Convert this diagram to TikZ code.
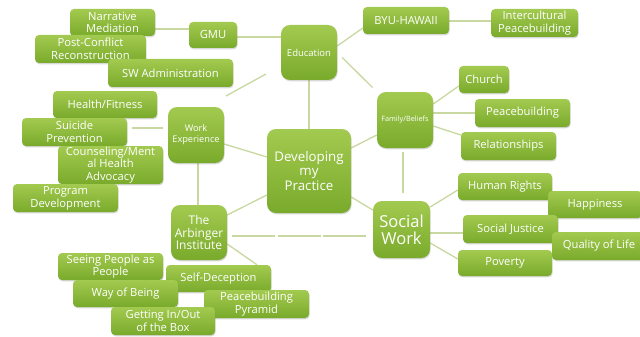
\documentclass[tikz,border=0pt]{standalone}
\usepackage{fontspec}
\setmainfont{Open Sans}
\usetikzlibrary{shadows,calc,backgrounds}
\definecolor{gtop}{HTML}{A3CA50}
\definecolor{gbot}{HTML}{79AA2B}
\definecolor{lnk}{HTML}{C8D8A0}
\tikzset{
  bx/.style={rounded corners=4pt, top color=gtop, bottom color=gbot, draw=none,
    text=white, align=center, inner sep=0pt,
    drop shadow={shadow xshift=0.6pt, shadow yshift=-1.3pt, opacity=0.3},
    font=\fontsize{11.2}{12.8}\selectfont},
  bigbx/.style={bx, rounded corners=9pt},
  ln/.style={draw=lnk, line width=1.3pt},
}
\begin{document}
\begin{tikzpicture}[x=1pt,y=-1pt]
\useasboundingbox (0,0) rectangle (640,337);
% hubs
\node[bigbx, minimum width=84pt, minimum height=84pt, font=\fontsize{13.3}{14.5}\selectfont] (dev) at (309,171) {Developing\\my\\Practice};
\node[bigbx, minimum width=56pt, minimum height=55pt, font=\fontsize{9.5}{11}\selectfont] (edu) at (309,52.5) {Education};
\node[bigbx, minimum width=56pt, minimum height=56pt, font=\fontsize{9.2}{11}\selectfont] (work) at (196,135) {Work\\Experience};
\node[bigbx, minimum width=56pt, minimum height=56pt, font=\fontsize{7.3}{9}\selectfont] (fam) at (405,120) {Family/Beliefs};
\node[bigbx, minimum width=56pt, minimum height=55pt, font=\fontsize{12}{12.5}\selectfont] (arb) at (199,232.5) {The\\Arbinger\\Institute};
\node[bigbx, minimum width=57pt, minimum height=57pt, font=\fontsize{16.5}{17}\selectfont] (soc) at (401.5,229.5) {Social\\Work};
% education branch
\node[bx, minimum width=85pt, minimum height=27pt] (narr) at (112.5,22.5) {Narrative\\Mediation};
\node[bx, minimum width=48pt, minimum height=26pt] (gmu) at (213,35) {GMU};
\node[bx, minimum width=111pt, minimum height=28pt] (post) at (90.5,49) {Post-Conflict\\Reconstruction};
\node[bx, minimum width=125pt, minimum height=28pt] (swadm) at (170.5,73) {SW Administration};
\node[bx, minimum width=86pt, minimum height=27pt] (byu) at (406,20.5) {BYU-HAWAII};
\node[bx, minimum width=87pt, minimum height=28pt] (inter) at (534.5,23) {Intercultural\\Peacebuilding};
% family branch
\node[bx, minimum width=50pt, minimum height=27pt] (church) at (484,79.5) {Church};
\node[bx, minimum width=95pt, minimum height=28pt] (peace) at (522.5,113) {Peacebuilding};
\node[bx, minimum width=95pt, minimum height=28pt] (rel) at (508.5,146) {Relationships};
% work branch
\node[bx, minimum width=104pt, minimum height=27pt] (health) at (105,104.5) {Health/Fitness};
\node[bx, minimum width=105pt, minimum height=28pt] (suic) at (74.5,132) {Suicide\\Prevention};
\node[bx, minimum width=105pt, minimum height=38pt] (couns) at (110.5,165) {Counseling/Ment\\al Health\\Advocacy};
\node[bx, minimum width=105pt, minimum height=28pt] (prog) at (65.5,198) {Program\\Development};
% arbinger branch
\node[bx, minimum width=105pt, minimum height=27pt] (seeing) at (110.5,266.5) {Seeing People as\\People};
\node[bx, minimum width=105pt, minimum height=27pt] (selfd) at (218.5,278.5) {Self-Deception};
\node[bx, minimum width=105pt, minimum height=27pt] (way) at (125.5,293.5) {Way of Being};
\node[bx, minimum width=105pt, minimum height=28pt] (pyr) at (256.5,304) {Peacebuilding\\Pyramid};
\node[bx, minimum width=104pt, minimum height=28pt] (gbox) at (163,321) {Getting In/Out\\of the Box};
% social work branch
\node[bx, minimum width=94pt, minimum height=27pt] (hr) at (505,186.5) {Human Rights};
\node[bx, minimum width=94pt, minimum height=27pt] (happy) at (595,204.5) {Happiness};
\node[bx, minimum width=95pt, minimum height=28pt] (sj) at (510.5,229) {Social Justice};
\node[bx, minimum width=94pt, minimum height=26pt] (pov) at (505,263) {Poverty};
\node[bx, minimum width=94pt, minimum height=28pt] (qol) at (599,246) {Quality of Life};
\coordinate (ew1) at (266,74);
\coordinate (ew2) at (226,96);
% connectors
\begin{scope}[on background layer]
\fill[white] (0,0) rectangle (640,337);
\draw[ln] (narr.east|-0,29) -- (gmu.west|-0,29);
\draw[ln] (gmu.east|-0,37) -- (edu.west|-0,37);
\draw[ln] (edu.east|-0,46) -- (byu.west|-0,28);
\draw[ln] (byu.east|-0,21) -- (inter.west|-0,21);
\draw[ln, shorten <=7pt, shorten >=6pt] (edu.east) -- (fam.north west);
\draw[ln] (ew1) -- (ew2);
\draw[ln] (edu.south) -- (dev.north);
\draw[ln] (work.east|-0,144) -- (dev.west|-0,157);
\draw[ln, shorten <=5pt, shorten >=5pt] (suic.east|-0,128) -- (work.west|-0,128);
\draw[ln] (work.south-|198,0) -- (arb.north-|198,0);
\draw[ln] (dev.west|-0,195) -- (arb.east|-0,215);
\draw[ln] (dev.east|-0,148) -- (fam.west|-0,135);
\draw[ln] (dev.east|-0,197) -- (soc.west|-0,210);
\draw[ln, shorten <=4pt, shorten >=8pt] (fam.south-|403,0) -- (soc.north-|403,0);
\draw[ln] (fam.east|-0,104) -- (church.west|-0,86);
\draw[ln] (fam.east|-0,113) -- (peace.west|-0,113);
\draw[ln] (fam.east|-0,126) -- (rel.west|-0,135);
\draw[ln] (soc.east|-0,207) -- (hr.west|-0,190);
\draw[ln] (soc.east|-0,233) -- (sj.west|-0,233);
\draw[ln] (soc.east|-0,243) -- (pov.west|-0,259);
\draw[ln, dash pattern=on 43pt off 2.5pt, shorten <=5pt, shorten >=6pt] (arb.east|-0,236) -- (soc.west|-0,236);
\draw[ln] (arb.east|-0,244) -- (selfd.north-|257,0);
\end{scope}
\end{tikzpicture}
\end{document}
